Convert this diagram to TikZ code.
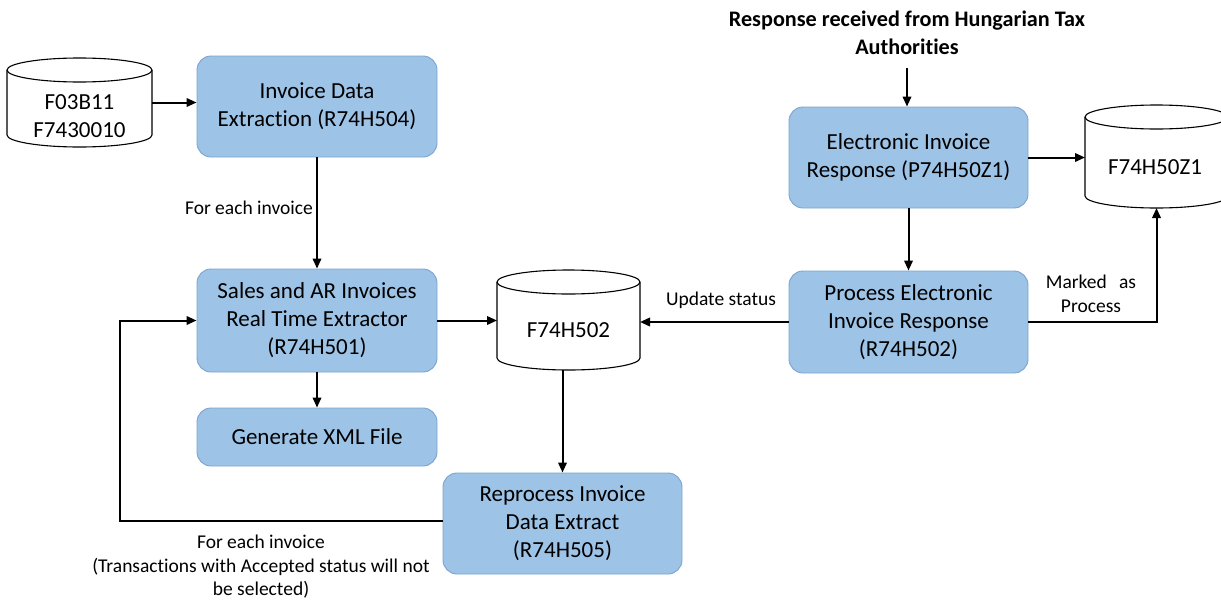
\documentclass[tikz,border=0pt]{standalone}
\usepackage{fontspec}
\setmainfont{Carlito}[Ligatures=NoCommon]
\usetikzlibrary{arrows.meta,calc}
\definecolor{boxfill}{HTML}{9DC3E6}
\definecolor{boxline}{HTML}{7BA3CF}
\newcommand\bigtxt{\fontsize{23}{28}\selectfont}
\newcommand\smalltxt{\fontsize{19.5}{23.5}\selectfont}
\newcommand\ttltxt{\fontsize{22.2}{28}\selectfont\bfseries}
\begin{document}
\begin{tikzpicture}[x=1pt,y=1pt,
 box/.style={draw=boxline, fill=boxfill, line width=0.9pt, rounded corners=14pt, align=center, font=\bigtxt, inner sep=0pt},
 arr/.style={line width=2pt, -{Triangle[length=10pt,width=8.5pt]}},
 lbl/.style={font=\smalltxt, align=center, inner sep=0pt},
 ttl/.style={font=\ttltxt, align=center, inner sep=0pt},
 cyl/.style={line width=1.1pt, draw=black},
 cylnode/.style={inner sep=0pt, outer sep=0pt, draw=none, minimum width=#1},
 cyltxt/.style={font=\bigtxt, align=center, inner sep=0pt},
]
\useasboundingbox (0,0) rectangle (1221,-600);

% process boxes
\node[box, minimum width=240pt, minimum height=101pt] (ide) at (317,-106.5) {Invoice Data\\Extraction (R74H504)};
\node[box, minimum width=240pt, minimum height=103pt] (sales) at (317,-320.5) {Sales and AR Invoices\\Real Time Extractor\\(R74H501)};
\node[box, minimum width=240pt, minimum height=58pt] (xml) at (317,-437) {Generate XML File};
\node[box, minimum width=239pt, minimum height=101pt] (rp) at (562.5,-523.5) {Reprocess Invoice\\Data Extract\\(R74H505)};
\node[box, minimum width=239pt, minimum height=101pt] (eir) at (908.5,-157.5) {Electronic Invoice\\Response (P74H50Z1)};
\node[box, minimum width=239pt, minimum height=102pt] (pe) at (908.5,-322) {Process Electronic\\Invoice Response\\(R74H502)};

% cylinders
\filldraw[cyl, fill=white] (7,-70) -- (7,-135) arc[start angle=180,end angle=360,x radius=72.5pt,y radius=12pt] -- (152,-70) arc[start angle=0,end angle=180,x radius=72.5pt,y radius=12pt] -- cycle;
\draw[cyl] (7,-70) arc[start angle=180,end angle=360,x radius=72.5pt,y radius=12pt];
\node[cylnode=145pt, minimum height=89pt] (f03) at (79.5,-102.5) {};
\node[cyltxt] (f03t) at (79.5,-116.5) {F03B11\\F7430010};

\filldraw[cyl, fill=white] (497,-282) -- (497,-358) arc[start angle=180,end angle=360,x radius=71.5pt,y radius=12pt] -- (640,-282) arc[start angle=0,end angle=180,x radius=71.5pt,y radius=12pt] -- cycle;
\draw[cyl] (497,-282) arc[start angle=180,end angle=360,x radius=71.5pt,y radius=12pt];
\node[cylnode=143pt, minimum height=100pt] (f502) at (568.5,-320) {};
\node[cyltxt] (f502t) at (568.5,-330) {F74H502};

\filldraw[cyl, fill=white] (1085,-117) -- (1085,-196) arc[start angle=180,end angle=360,x radius=71.5pt,y radius=12pt] -- (1228,-117) arc[start angle=0,end angle=180,x radius=71.5pt,y radius=12pt] -- cycle;
\draw[cyl] (1085,-117) arc[start angle=180,end angle=360,x radius=71.5pt,y radius=12pt];
\node[cylnode=143pt, minimum height=103pt] (f50z1) at (1156.5,-156.5) {};
\node[cyltxt] (f50t) at (1155,-167) {F74H50Z1};

% title
\node[ttl] (title) at (907,-33) {Response received from Hungarian Tax\\Authorities};
\coordinate (tin) at (907,-68);

% connectors
\draw[arr] (f03.east) -- (f03.east -| ide.west);
\draw[arr] (ide.south) -- (sales.north);
\node[lbl] (lfe) at (249,-208) {For each invoice};
\draw[arr] (sales.south) -- (xml.north);
\draw[arr] (sales.east) -- (sales.east -| f502.west);
\draw[arr] (pe.west) -- (pe.west -| f502.east);
\node[lbl] (lus) at (721,-300) {Update status};
\draw[arr] (f502.south -| rp.north) -- (rp.north);
\coordinate (loop) at (120,-521);
\draw[arr] (rp.west |- loop) -- (loop) |- (sales.west);
\node[lbl] (lbot) at (261,-567) {For each invoice\\(Transactions with Accepted status will not\\be selected)};
\draw[arr] (tin) -- (tin |- eir.north);
\draw[arr] (eir.south) -- (pe.north);
\draw[arr] (eir.east) -- (eir.east -| f50z1.west);
\draw[arr] (pe.east) -| (f50z1.south);
\node[lbl] (lmp) at (1091,-294) {Marked\hspace{0.4em} as\\Process};
\end{tikzpicture}
\end{document}
